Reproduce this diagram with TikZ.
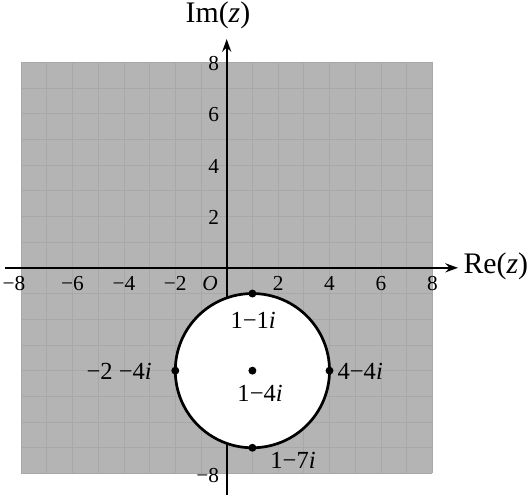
\documentclass[tikz,border=0pt]{standalone}
\usepackage{fontspec}
\setmainfont{Liberation Serif}
\usetikzlibrary{arrows.meta}
\definecolor{greyfill}{HTML}{B4B4B4}
\definecolor{gridc}{HTML}{A8A8A8}
\tikzset{
  axis/.style={line width=1.1pt, -{Stealth[length=7pt,width=5pt]}},
  tick/.style={font=\fontsize{11.8}{13}\selectfont, inner sep=0pt},
  lbl/.style={font=\fontsize{13.6}{15}\selectfont, inner sep=0pt},
  axlbl/.style={font=\fontsize{16.5}{18}\selectfont, inner sep=0pt},
  dot/.style={circle, fill=black, inner sep=0pt, minimum size=4.4pt},
}
\begin{document}
\begin{tikzpicture}[x=0.5cm,y=0.5cm]
\useasboundingbox (-8.82,-8.84) rectangle (11.80,10.42);
\fill[greyfill] (-8,-8) rectangle (8,8);
\draw[gridc, line width=0.4pt, step=0.5cm] (-8,-8) grid (8,8);
% axes
\coordinate (xs) at (-8.62,0);
\coordinate (xe) at (9.0,0);
\coordinate (ys) at (0,-8.84);
\coordinate (ye) at (0,8.9);
\draw[axis] (xs) -- (xe);
\draw[axis] (ys) -- (ye);
\node[axlbl, anchor=west] (re) at (9.2,0.05) {Re(\textit{z})};
\node[axlbl] (im) at (-0.34,9.83) {Im(\textit{z})};
% tick labels
\node[tick] (txm8) at (-8.28,-0.6) {−8};
\node[tick] (txm6) at (-6,-0.6) {−6};
\node[tick] (txm4) at (-4,-0.6) {−4};
\node[tick] (txm2) at (-2,-0.6) {−2};
\node[tick] (tx2) at (2,-0.6) {2};
\node[tick] (tx4) at (4,-0.6) {4};
\node[tick] (tx6) at (6,-0.6) {6};
\node[tick] (tx8) at (8,-0.6) {8};
\node[tick] (O) at (-0.65,-0.6) {\textit{O}};
\node[tick, anchor=east] (ty2) at (-0.28,1.95) {2};
\node[tick, anchor=east] (ty4) at (-0.28,3.95) {4};
\node[tick, anchor=east] (ty6) at (-0.28,5.95) {6};
\node[tick, anchor=east] (ty8) at (-0.28,7.95) {8};
\node[tick, anchor=east] (tym8) at (-0.28,-8.07) {−8};
% circle
\coordinate (c) at (1,-4);
\draw[fill=white, line width=1.5pt] (c) circle (3);
\node[dot] (p1) at (1,-1) {};
\node[dot] (p2) at (4,-4) {};
\node[dot] (p3) at (-2,-4) {};
\node[dot] (p4) at (1,-7) {};
\node[dot] (p0) at (c) {};
\node[lbl] (l1) at (1.03,-2.04) {1−1\textit{i}};
\node[lbl] (l0) at (1.3,-4.88) {1−4\textit{i}};
\node[lbl, anchor=west] (l2) at (4.3,-4.02) {4−4\textit{i}};
\node[lbl] (l4) at (2.58,-7.48) {1−7\textit{i}};
\node[lbl, anchor=east] (l3) at (-2.9,-4.02) {−2 −4\textit{i}};
\end{tikzpicture}
\end{document}
